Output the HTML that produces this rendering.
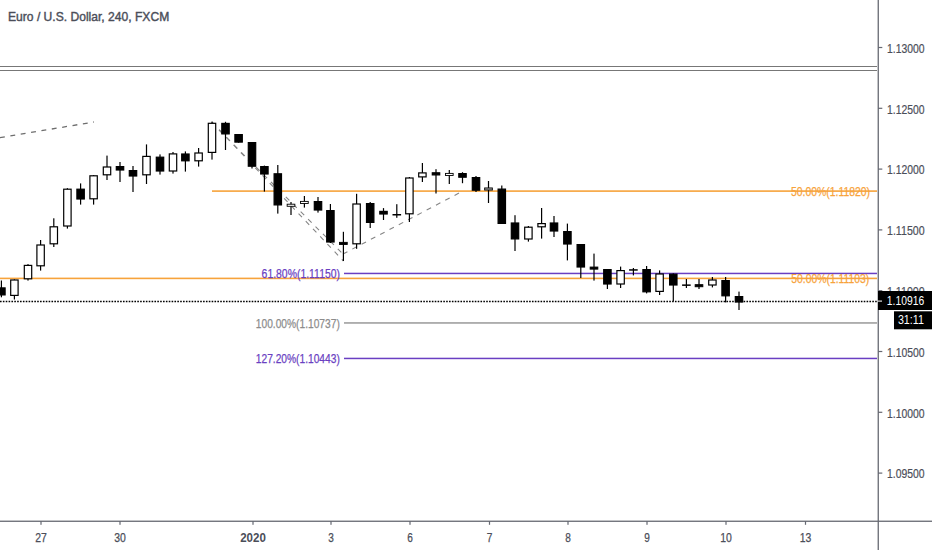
<!DOCTYPE html>
<html><head><meta charset="utf-8"><style>
html,body{margin:0;padding:0;background:#fff;width:932px;height:550px;overflow:hidden}
svg{display:block;font-family:"Liberation Sans", sans-serif}
</style></head><body>
<svg width="932" height="550" viewBox="0 0 932 550">
<text x="8" y="21.3" fill="#4b4e59" font-size="12.2" text-anchor="start" font-weight="normal" textLength="161.2" lengthAdjust="spacingAndGlyphs" stroke="#4b4e59" stroke-width="0.4">Euro / U.S. Dollar, 240, FXCM</text>
<rect x="0" y="66" width="877" height="1" fill="#777"/>
<rect x="0" y="70" width="877" height="1" fill="#777"/>
<line x1="0" y1="137.6" x2="94" y2="122" stroke="#6e6e6e" stroke-width="1.3" stroke-dasharray="4.9 5.6"/>
<rect x="212" y="190.3" width="665" height="1.6" fill="#f7a33b"/>
<rect x="0" y="277.6" width="877" height="1.6" fill="#f7a33b"/>
<rect x="344" y="272.7" width="533" height="1.5" fill="#6a3fc2"/>
<rect x="344" y="322.2" width="533" height="1.5" fill="#999999"/>
<rect x="344" y="357.7" width="533" height="1.5" fill="#6a3fc2"/>
<line x1="0" y1="301.5" x2="878" y2="301.5" stroke="#000" stroke-width="1.5" stroke-dasharray="1.6 1.26"/>
<line x1="219" y1="130" x2="343" y2="254" stroke="#858585" stroke-width="1.1" stroke-dasharray="5 5.5"/>
<line x1="212" y1="122" x2="343.4" y2="261" stroke="#858585" stroke-width="1.1" stroke-dasharray="5 5.5"/>
<line x1="343" y1="254" x2="462" y2="191.5" stroke="#858585" stroke-width="1.1" stroke-dasharray="5 5.5"/>
<rect x="0.8" y="280.5" width="1.2" height="16.8" fill="#000"/>
<rect x="-2.30" y="287.90" width="7.40" height="7.00" fill="#000" stroke="#000" stroke-width="1.2"/>
<rect x="13.8" y="279.4" width="1.2" height="20.1" fill="#000"/>
<rect x="10.70" y="280.00" width="7.40" height="15.40" fill="#fff" stroke="#000" stroke-width="1.2"/>
<rect x="27.4" y="264.1" width="1.2" height="16.5" fill="#000"/>
<rect x="24.30" y="265.40" width="7.40" height="13.40" fill="#fff" stroke="#000" stroke-width="1.2"/>
<rect x="40.0" y="240.0" width="1.2" height="30.6" fill="#000"/>
<rect x="36.90" y="245.00" width="7.40" height="20.80" fill="#fff" stroke="#000" stroke-width="1.2"/>
<rect x="53.2" y="218.3" width="1.2" height="28.7" fill="#000"/>
<rect x="50.10" y="226.80" width="7.40" height="17.00" fill="#fff" stroke="#000" stroke-width="1.2"/>
<rect x="66.8" y="188.2" width="1.2" height="40.4" fill="#000"/>
<rect x="63.70" y="189.20" width="7.40" height="36.80" fill="#fff" stroke="#000" stroke-width="1.2"/>
<rect x="80.0" y="183.4" width="1.2" height="21.2" fill="#000"/>
<rect x="76.90" y="189.20" width="7.40" height="9.80" fill="#000" stroke="#000" stroke-width="1.2"/>
<rect x="93.0" y="175.0" width="1.2" height="29.6" fill="#000"/>
<rect x="89.90" y="175.80" width="7.40" height="23.00" fill="#fff" stroke="#000" stroke-width="1.2"/>
<rect x="106.4" y="155.6" width="1.2" height="24.4" fill="#000"/>
<rect x="103.30" y="167.00" width="7.40" height="7.80" fill="#fff" stroke="#000" stroke-width="1.2"/>
<rect x="119.4" y="162.0" width="1.2" height="20.0" fill="#000"/>
<rect x="116.30" y="166.60" width="7.40" height="3.40" fill="#000" stroke="#000" stroke-width="1.2"/>
<rect x="132.4" y="166.0" width="1.2" height="26.0" fill="#000"/>
<rect x="129.30" y="170.60" width="7.40" height="5.40" fill="#000" stroke="#000" stroke-width="1.2"/>
<rect x="145.9" y="144.4" width="1.2" height="39.6" fill="#000"/>
<rect x="142.80" y="156.40" width="7.40" height="18.40" fill="#fff" stroke="#000" stroke-width="1.2"/>
<rect x="159.4" y="154.4" width="1.2" height="20.2" fill="#000"/>
<rect x="156.30" y="157.20" width="7.40" height="13.80" fill="#000" stroke="#000" stroke-width="1.2"/>
<rect x="172.4" y="152.0" width="1.2" height="21.6" fill="#000"/>
<rect x="169.30" y="153.90" width="7.40" height="17.10" fill="#fff" stroke="#000" stroke-width="1.2"/>
<rect x="184.8" y="151.4" width="1.2" height="20.2" fill="#000"/>
<rect x="181.70" y="154.00" width="7.40" height="6.80" fill="#000" stroke="#000" stroke-width="1.2"/>
<rect x="198.0" y="148.0" width="1.2" height="18.6" fill="#000"/>
<rect x="194.90" y="153.00" width="7.40" height="7.80" fill="#fff" stroke="#000" stroke-width="1.2"/>
<rect x="211.4" y="121.6" width="1.2" height="38.0" fill="#000"/>
<rect x="208.30" y="123.30" width="7.40" height="29.10" fill="#fff" stroke="#000" stroke-width="1.2"/>
<rect x="224.9" y="121.8" width="1.2" height="28.2" fill="#000"/>
<rect x="221.80" y="123.40" width="7.40" height="10.50" fill="#000" stroke="#000" stroke-width="1.2"/>
<rect x="238.0" y="134.0" width="1.2" height="8.7" fill="#000"/>
<rect x="234.90" y="134.60" width="7.40" height="7.50" fill="#000" stroke="#000" stroke-width="1.2"/>
<rect x="251.4" y="142.0" width="1.2" height="26.5" fill="#000"/>
<rect x="248.30" y="142.60" width="7.40" height="23.60" fill="#000" stroke="#000" stroke-width="1.2"/>
<rect x="263.8" y="165.6" width="1.2" height="26.0" fill="#000"/>
<rect x="260.70" y="166.60" width="7.40" height="7.40" fill="#000" stroke="#000" stroke-width="1.2"/>
<rect x="277.2" y="165.0" width="1.2" height="48.6" fill="#000"/>
<rect x="274.10" y="173.80" width="7.40" height="31.10" fill="#000" stroke="#000" stroke-width="1.2"/>
<rect x="290.4" y="202.0" width="1.2" height="13.0" fill="#000"/>
<rect x="287.15" y="204.20" width="7.70" height="2.10" fill="#fff" stroke="#000" stroke-width="0.9"/>
<rect x="303.8" y="196.0" width="1.2" height="11.6" fill="#000"/>
<rect x="300.55" y="201.40" width="7.70" height="2.10" fill="#fff" stroke="#000" stroke-width="0.9"/>
<rect x="317.4" y="197.0" width="1.2" height="15.6" fill="#000"/>
<rect x="314.30" y="201.60" width="7.40" height="8.40" fill="#000" stroke="#000" stroke-width="1.2"/>
<rect x="329.8" y="204.0" width="1.2" height="39.0" fill="#000"/>
<rect x="326.70" y="210.60" width="7.40" height="31.40" fill="#000" stroke="#000" stroke-width="1.2"/>
<rect x="342.8" y="231.8" width="1.2" height="29.2" fill="#000"/>
<rect x="339.55" y="242.35" width="7.70" height="2.10" fill="#000" stroke="#000" stroke-width="0.9"/>
<rect x="356.0" y="193.8" width="1.2" height="55.0" fill="#000"/>
<rect x="352.90" y="204.00" width="7.40" height="39.80" fill="#fff" stroke="#000" stroke-width="1.2"/>
<rect x="369.6" y="202.0" width="1.2" height="26.0" fill="#000"/>
<rect x="366.50" y="203.60" width="7.40" height="18.80" fill="#000" stroke="#000" stroke-width="1.2"/>
<rect x="382.9" y="208.1" width="1.2" height="11.9" fill="#000"/>
<rect x="379.80" y="211.40" width="7.40" height="2.60" fill="#000" stroke="#000" stroke-width="1.2"/>
<rect x="396.2" y="204.2" width="1.2" height="13.6" fill="#000"/>
<rect x="392.50" y="214.00" width="8.6" height="1.5" fill="#000"/>
<rect x="408.8" y="177.0" width="1.2" height="45.0" fill="#000"/>
<rect x="405.70" y="178.00" width="7.40" height="35.80" fill="#fff" stroke="#000" stroke-width="1.2"/>
<rect x="421.8" y="163.0" width="1.2" height="19.0" fill="#000"/>
<rect x="418.70" y="172.90" width="7.40" height="4.00" fill="#fff" stroke="#000" stroke-width="1.2"/>
<rect x="435.4" y="169.2" width="1.2" height="24.3" fill="#000"/>
<rect x="432.30" y="172.80" width="7.40" height="2.10" fill="#000" stroke="#000" stroke-width="1.2"/>
<rect x="448.7" y="170.0" width="1.2" height="14.0" fill="#000"/>
<rect x="445.45" y="173.40" width="7.70" height="2.10" fill="#fff" stroke="#000" stroke-width="0.9"/>
<rect x="461.9" y="172.2" width="1.2" height="11.0" fill="#000"/>
<rect x="458.80" y="173.60" width="7.40" height="3.60" fill="#000" stroke="#000" stroke-width="1.2"/>
<rect x="475.4" y="176.0" width="1.2" height="16.0" fill="#000"/>
<rect x="472.30" y="177.60" width="7.40" height="12.60" fill="#000" stroke="#000" stroke-width="1.2"/>
<rect x="487.9" y="181.0" width="1.2" height="22.0" fill="#000"/>
<rect x="484.65" y="187.95" width="7.70" height="2.10" fill="#aaa" stroke="#000" stroke-width="0.9"/>
<rect x="501.2" y="185.5" width="1.2" height="38.5" fill="#000"/>
<rect x="498.10" y="189.10" width="7.40" height="34.30" fill="#000" stroke="#000" stroke-width="1.2"/>
<rect x="514.4" y="215.2" width="1.2" height="35.8" fill="#000"/>
<rect x="511.30" y="223.00" width="7.40" height="15.90" fill="#000" stroke="#000" stroke-width="1.2"/>
<rect x="527.8" y="226.0" width="1.2" height="15.6" fill="#000"/>
<rect x="524.70" y="227.20" width="7.40" height="11.80" fill="#fff" stroke="#000" stroke-width="1.2"/>
<rect x="541.0" y="208.0" width="1.2" height="30.6" fill="#000"/>
<rect x="537.90" y="223.60" width="7.40" height="3.20" fill="#fff" stroke="#000" stroke-width="1.2"/>
<rect x="553.4" y="216.0" width="1.2" height="21.0" fill="#000"/>
<rect x="550.30" y="223.00" width="7.40" height="8.00" fill="#000" stroke="#000" stroke-width="1.2"/>
<rect x="566.8" y="223.6" width="1.2" height="36.8" fill="#000"/>
<rect x="563.70" y="231.60" width="7.40" height="12.40" fill="#000" stroke="#000" stroke-width="1.2"/>
<rect x="580.2" y="244.0" width="1.2" height="34.0" fill="#000"/>
<rect x="577.10" y="244.60" width="7.40" height="22.40" fill="#000" stroke="#000" stroke-width="1.2"/>
<rect x="593.4" y="253.6" width="1.2" height="27.0" fill="#000"/>
<rect x="590.15" y="267.05" width="7.70" height="2.10" fill="#000" stroke="#000" stroke-width="0.9"/>
<rect x="606.8" y="269.0" width="1.2" height="20.0" fill="#000"/>
<rect x="603.70" y="269.60" width="7.40" height="14.40" fill="#000" stroke="#000" stroke-width="1.2"/>
<rect x="620.0" y="266.6" width="1.2" height="21.4" fill="#000"/>
<rect x="616.90" y="270.60" width="7.40" height="13.40" fill="#fff" stroke="#000" stroke-width="1.2"/>
<rect x="632.8" y="268.0" width="1.2" height="7.4" fill="#000"/>
<rect x="629.10" y="269.20" width="8.6" height="1.5" fill="#000"/>
<rect x="646.0" y="266.0" width="1.2" height="27.4" fill="#000"/>
<rect x="642.90" y="269.60" width="7.40" height="22.20" fill="#000" stroke="#000" stroke-width="1.2"/>
<rect x="659.0" y="270.4" width="1.2" height="24.6" fill="#000"/>
<rect x="655.90" y="274.00" width="7.40" height="17.40" fill="#fff" stroke="#000" stroke-width="1.2"/>
<rect x="672.7" y="273.4" width="1.2" height="28.0" fill="#000"/>
<rect x="669.60" y="274.20" width="7.40" height="10.80" fill="#000" stroke="#000" stroke-width="1.2"/>
<rect x="685.8" y="279.0" width="1.2" height="9.0" fill="#000"/>
<rect x="682.10" y="284.40" width="8.6" height="1.5" fill="#000"/>
<rect x="698.4" y="279.0" width="1.2" height="10.0" fill="#000"/>
<rect x="695.15" y="284.65" width="7.70" height="2.10" fill="#000" stroke="#000" stroke-width="0.9"/>
<rect x="711.8" y="277.0" width="1.2" height="10.4" fill="#000"/>
<rect x="708.70" y="280.00" width="7.40" height="5.00" fill="#fff" stroke="#000" stroke-width="1.2"/>
<rect x="725.0" y="277.0" width="1.2" height="25.4" fill="#000"/>
<rect x="721.90" y="280.60" width="7.40" height="15.20" fill="#000" stroke="#000" stroke-width="1.2"/>
<rect x="738.4" y="291.6" width="1.2" height="18.4" fill="#000"/>
<rect x="735.30" y="296.60" width="7.40" height="5.40" fill="#000" stroke="#000" stroke-width="1.2"/>
<text x="870" y="195.6" fill="#f7a33b" font-size="12.5" text-anchor="end" font-weight="normal" textLength="79" lengthAdjust="spacingAndGlyphs" stroke="#f7a33b" stroke-width="0.25">50.00%(1.11820)</text>
<text x="791.3" y="283" fill="#f7a33b" font-size="12.5" text-anchor="start" font-weight="normal" textLength="78" lengthAdjust="spacingAndGlyphs" stroke="#f7a33b" stroke-width="0.25">50.00%(1.11103)</text>
<text x="261.6" y="278" fill="#6a3fc2" font-size="12.5" text-anchor="start" font-weight="normal" textLength="78.4" lengthAdjust="spacingAndGlyphs" stroke="#6a3fc2" stroke-width="0.25">61.80%(1.11150)</text>
<text x="255.8" y="327.7" fill="#8c8c8c" font-size="12.5" text-anchor="start" font-weight="normal" textLength="84" lengthAdjust="spacingAndGlyphs" stroke="#8c8c8c" stroke-width="0.25">100.00%(1.10737)</text>
<text x="255.8" y="363.3" fill="#6a3fc2" font-size="12.5" text-anchor="start" font-weight="normal" textLength="84" lengthAdjust="spacingAndGlyphs" stroke="#6a3fc2" stroke-width="0.25">127.20%(1.10443)</text>
<rect x="0" y="0" width="0" height="0" fill="none"/>
<rect x="877.6" y="0" width="1.3" height="550" fill="#666972"/>
<rect x="0" y="520.6" width="932" height="1.3" fill="#666972"/>
<rect x="878" y="46.9" width="4.3" height="1.2" fill="#666972"/>
<text x="887" y="52.7" fill="#4b4e59" font-size="12.8" text-anchor="start" font-weight="normal" textLength="37.6" lengthAdjust="spacingAndGlyphs" stroke="#4b4e59" stroke-width="0.2">1.13000</text>
<rect x="878" y="107.7" width="4.3" height="1.2" fill="#666972"/>
<text x="887" y="113.5" fill="#4b4e59" font-size="12.8" text-anchor="start" font-weight="normal" textLength="37.6" lengthAdjust="spacingAndGlyphs" stroke="#4b4e59" stroke-width="0.2">1.12500</text>
<rect x="878" y="168.5" width="4.3" height="1.2" fill="#666972"/>
<text x="887" y="174.29999999999998" fill="#4b4e59" font-size="12.8" text-anchor="start" font-weight="normal" textLength="37.6" lengthAdjust="spacingAndGlyphs" stroke="#4b4e59" stroke-width="0.2">1.12000</text>
<rect x="878" y="229.3" width="4.3" height="1.2" fill="#666972"/>
<text x="887" y="235.09999999999997" fill="#4b4e59" font-size="12.8" text-anchor="start" font-weight="normal" textLength="37.6" lengthAdjust="spacingAndGlyphs" stroke="#4b4e59" stroke-width="0.2">1.11500</text>
<rect x="878" y="290.1" width="4.3" height="1.2" fill="#666972"/>
<text x="887" y="295.9" fill="#4b4e59" font-size="12.8" text-anchor="start" font-weight="normal" textLength="37.6" lengthAdjust="spacingAndGlyphs" stroke="#4b4e59" stroke-width="0.2">1.11000</text>
<rect x="878" y="350.9" width="4.3" height="1.2" fill="#666972"/>
<text x="887" y="356.7" fill="#4b4e59" font-size="12.8" text-anchor="start" font-weight="normal" textLength="37.6" lengthAdjust="spacingAndGlyphs" stroke="#4b4e59" stroke-width="0.2">1.10500</text>
<rect x="878" y="411.7" width="4.3" height="1.2" fill="#666972"/>
<text x="887" y="417.49999999999994" fill="#4b4e59" font-size="12.8" text-anchor="start" font-weight="normal" textLength="37.6" lengthAdjust="spacingAndGlyphs" stroke="#4b4e59" stroke-width="0.2">1.10000</text>
<rect x="878" y="472.5" width="4.3" height="1.2" fill="#666972"/>
<text x="887" y="478.29999999999995" fill="#4b4e59" font-size="12.8" text-anchor="start" font-weight="normal" textLength="37.6" lengthAdjust="spacingAndGlyphs" stroke="#4b4e59" stroke-width="0.2">1.09500</text>
<rect x="40.4" y="521" width="1.2" height="3.8" fill="#666972"/>
<text x="41" y="541.5" fill="#4b4e59" font-size="12.3" text-anchor="middle" font-weight="normal" textLength="11.6" lengthAdjust="spacingAndGlyphs" stroke="#4b4e59" stroke-width="0.25">27</text>
<rect x="119.4" y="521" width="1.2" height="3.8" fill="#666972"/>
<text x="120" y="541.5" fill="#4b4e59" font-size="12.3" text-anchor="middle" font-weight="normal" textLength="11.6" lengthAdjust="spacingAndGlyphs" stroke="#4b4e59" stroke-width="0.25">30</text>
<rect x="252.4" y="521" width="1.2" height="3.8" fill="#666972"/>
<text x="253" y="541.5" fill="#4b4e59" font-size="12.3" text-anchor="middle" font-weight="bold" textLength="25.7" lengthAdjust="spacingAndGlyphs">2020</text>
<rect x="330.4" y="521" width="1.2" height="3.8" fill="#666972"/>
<text x="331" y="541.5" fill="#4b4e59" font-size="12.3" text-anchor="middle" font-weight="normal" textLength="5.6" lengthAdjust="spacingAndGlyphs" stroke="#4b4e59" stroke-width="0.25">3</text>
<rect x="409.4" y="521" width="1.2" height="3.8" fill="#666972"/>
<text x="410" y="541.5" fill="#4b4e59" font-size="12.3" text-anchor="middle" font-weight="normal" textLength="5.6" lengthAdjust="spacingAndGlyphs" stroke="#4b4e59" stroke-width="0.25">6</text>
<rect x="488.9" y="521" width="1.2" height="3.8" fill="#666972"/>
<text x="489.5" y="541.5" fill="#4b4e59" font-size="12.3" text-anchor="middle" font-weight="normal" textLength="5.6" lengthAdjust="spacingAndGlyphs" stroke="#4b4e59" stroke-width="0.25">7</text>
<rect x="567.4" y="521" width="1.2" height="3.8" fill="#666972"/>
<text x="568" y="541.5" fill="#4b4e59" font-size="12.3" text-anchor="middle" font-weight="normal" textLength="5.6" lengthAdjust="spacingAndGlyphs" stroke="#4b4e59" stroke-width="0.25">8</text>
<rect x="646.4" y="521" width="1.2" height="3.8" fill="#666972"/>
<text x="647" y="541.5" fill="#4b4e59" font-size="12.3" text-anchor="middle" font-weight="normal" textLength="5.6" lengthAdjust="spacingAndGlyphs" stroke="#4b4e59" stroke-width="0.25">9</text>
<rect x="725.4" y="521" width="1.2" height="3.8" fill="#666972"/>
<text x="726" y="541.5" fill="#4b4e59" font-size="12.3" text-anchor="middle" font-weight="normal" textLength="11.6" lengthAdjust="spacingAndGlyphs" stroke="#4b4e59" stroke-width="0.25">10</text>
<rect x="804.9" y="521" width="1.2" height="3.8" fill="#666972"/>
<text x="805.5" y="541.5" fill="#4b4e59" font-size="12.3" text-anchor="middle" font-weight="normal" textLength="11.6" lengthAdjust="spacingAndGlyphs" stroke="#4b4e59" stroke-width="0.25">13</text>
<rect x="878" y="291" width="54" height="19" fill="#000"/>
<rect x="878" y="300.5" width="4" height="1.2" fill="#ddd"/>
<text x="886.8" y="304.7" fill="#fff" font-size="12.8" text-anchor="start" font-weight="normal" textLength="37.4" lengthAdjust="spacingAndGlyphs">1.10916</text>
<rect x="894" y="311.3" width="38" height="18" fill="#000"/>
<text x="897.9" y="324.2" fill="#fff" font-size="12.8" text-anchor="start" font-weight="normal" textLength="26" lengthAdjust="spacingAndGlyphs">31:11</text>
</svg>
</body></html>
